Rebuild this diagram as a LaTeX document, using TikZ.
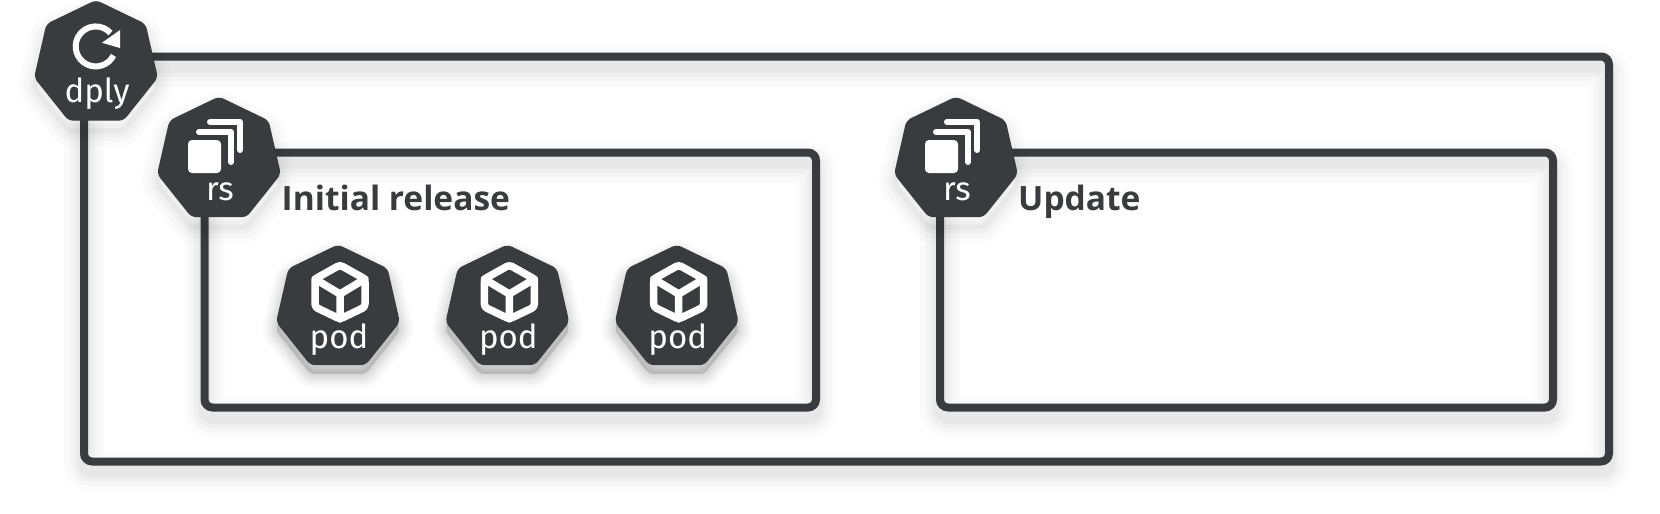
\documentclass[tikz,border=0pt]{standalone}
\usepackage{fontspec}
\setmainfont{Fira Sans}
\newfontfamily\titlefont{Open Sans}
\usetikzlibrary{positioning,shapes.geometric}
\definecolor{kubedark}{RGB}{58,59,63}
\newcommand{\replicaicon}[1]{%
\begin{scope}[shift={(#1.center)}]
\fill[white,rounded corners=4pt] (-31,-20) rectangle (2,13);
\draw[iconline,line width=6pt] (-20,-28)--(12,-28)--(12,2);
\draw[iconline,line width=6pt] (-9,-38)--(21,-38)--(21,-10);
\end{scope}}
\newcommand{\cubeicon}[1]{%
\begin{scope}[shift={(#1.center)}]
\draw[iconline,line width=7.5pt,rounded corners=3pt] (2,-43)--(27,-29)--(27,-1)--(2,11)--(-23,-1)--(-23,-29)--cycle;
\draw[iconline,line width=7.5pt] (-23,-29)--(2,-14)--(27,-29) (2,-14)--(2,11);
\end{scope}}
\begin{document}
\begin{tikzpicture}[
x=1pt,y=-1pt,
softshade/.style={
preaction={draw=black,opacity=.014,line width=#1+32pt,transform canvas={yshift=-10pt}},
preaction={draw=black,opacity=.018,line width=#1+22pt,transform canvas={yshift=-10pt}},
preaction={draw=black,opacity=.024,line width=#1+13pt,transform canvas={yshift=-10pt}},
preaction={draw=black,opacity=.03,line width=#1+5pt,transform canvas={yshift=-10pt}}},
frame/.style={draw=kubedark,line width=8pt,rounded corners=8pt,inner sep=0pt,outer sep=0pt,softshade=8pt},
hept/.style={regular polygon,regular polygon sides=7,minimum size=127pt,inner sep=0pt,outer sep=0pt,fill=kubedark,rounded corners=5pt,line join=round},
podhept/.style={hept,
preaction={draw=black,fill=black,opacity=.012,line width=30pt,transform canvas={yshift=-9pt}},
preaction={draw=black,fill=black,opacity=.018,line width=25pt,transform canvas={yshift=-9pt}},
preaction={draw=black,fill=black,opacity=.022,line width=20pt,transform canvas={yshift=-9pt}},
preaction={draw=black,fill=black,opacity=.026,line width=15pt,transform canvas={yshift=-9pt}},
preaction={draw=black,fill=black,opacity=.03,line width=10pt,transform canvas={yshift=-9pt}},
preaction={draw=black,fill=black,opacity=.03,line width=5pt,transform canvas={yshift=-9pt}}},
iconline/.style={draw=white,line cap=round,line join=round},
kindtext/.style={text=white,anchor=base,font=\fontsize{33}{36}\selectfont,inner sep=0pt},
titletext/.style={text=kubedark,anchor=base west,font=\fontsize{33.5}{36}\selectfont\titlefont\bfseries,inner sep=0pt}
]
\useasboundingbox[fill=white] (0,0) rectangle (1660,514);
\node[frame,minimum width=1525pt,minimum height=405pt] (outer) at (846.5,259) {};
\node[frame,minimum width=611.5pt,minimum height=255pt] (initial) at (510.25,280) {};
\node[frame,minimum width=613pt,minimum height=255pt] (update) at (1246.5,280) {};
\node[hept,softshade=0pt] (dply) at ([xshift=12pt,yshift=-7pt]outer.north west) {};
\node[hept,softshade=0pt] (rsa) at ([xshift=14.5pt,yshift=-7.5pt]initial.north west) {};
\node[hept,softshade=0pt] (rsb) at ([xshift=16pt,yshift=-7.5pt]update.north west) {};
\node[podhept] (poda) at (338,308) {};
\node[podhept,right=52pt of poda] (podb) {};
\node[podhept,right=52pt of podb] (podc) {};
% icons
\begin{scope}[shift={(dply.center)}]
\draw[iconline,line width=6pt,line cap=butt] (17.5,-8) arc[start angle=-27,end angle=-318,radius=20pt];
\fill[white] (6,-20.7)--(24,-33.5)--(24,-15.5)--cycle;
\end{scope}
\replicaicon{rsa}
\replicaicon{rsb}
\cubeicon{poda}
\cubeicon{podb}
\cubeicon{podc}
% labels
\node[kindtext] (dplytext) at ([xshift=1pt,yshift=-39pt]dply.center) {dply};
\node[kindtext] (rsatext) at ([xshift=1pt,yshift=-40pt]rsa.center) {rs};
\node[kindtext] (rsbtext) at ([xshift=1pt,yshift=-40pt]rsb.center) {rs};
\node[kindtext] (podatext) at ([xshift=1pt,yshift=-40pt]poda.center) {pod};
\node[kindtext] (podbtext) at ([xshift=1pt,yshift=-40pt]podb.center) {pod};
\node[kindtext] (podctext) at ([xshift=1pt,yshift=-40pt]podc.center) {pod};
\node[titletext] (initialtitle) at ([xshift=77pt,yshift=-58pt]initial.north west) {Initial release};
\node[titletext] (updatetitle) at ([xshift=78pt,yshift=-58pt]update.north west) {Update};
\end{tikzpicture}
\end{document}
